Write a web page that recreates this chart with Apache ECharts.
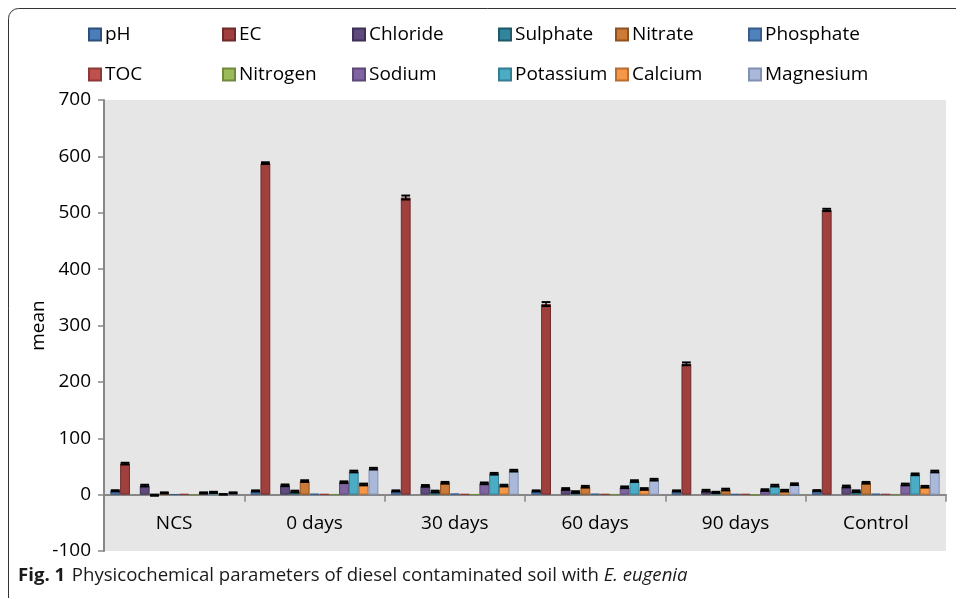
<!DOCTYPE html>
<html>
<head>
<meta charset="utf-8">
<script src="https://cdn.jsdelivr.net/npm/echarts@6/dist/echarts.min.js"></script>
<style>
  html, body { margin: 0; padding: 0; background: #fff; }
  #chart { width: 956px; height: 598px; }
</style>
</head>
<body>
<div id="chart"></div>
<script>
// ---- data ----
const categories = ['NCS', '0 days', '30 days', '60 days', '90 days', 'Control'];
const yTicks = [-100, 0, 100, 200, 300, 400, 500, 600, 700];

const pH        = [6.8, 6.5, 6.5, 6.5, 6.5, 7];
const EC        = [55, 588, 527, 338, 232, 505];
const Chloride  = [16, 16.5, 15.5, 10, 7, 14.5];
const Sulphate  = [-1, 5.5, 5.5, 4.5, 4, 6];
const Nitrate   = [3, 24, 21, 14, 9, 21];
const Phosphate = [0.5, 1.5, 2, 1.5, 1, 1.5];
const TOC       = [1, 1, 1, 1, 1, 1];
const Nitrogen  = [0.3, 0.5, 0.5, 0.5, -1, 0.5];
const Sodium    = [3, 22, 20, 13, 8, 18];
const Potassium = [4, 41, 37, 24, 16, 36];
const Calcium   = [0.5, 18, 16, 10, 7, 14];
const Magnesium = [3, 46, 42.5, 26.5, 18.5, 41];

// error (± half-range) for each mean
const errPH        = [1, 1, 1, 1, 1, 1];
const errEC        = [1.5, 1.5, 3.5, 3.5, 2.5, 2];
const errChloride  = [1.5, 1.5, 1.5, 1.5, 1.5, 1.5];
const errSulphate  = [1, 1.5, 1.5, 1.5, 1, 1.5];
const errNitrate   = [1, 1.5, 1.5, 1.5, 1.5, 1.5];
const errSodium    = [1, 1.5, 1.5, 1.5, 1.5, 1.5];
const errPotassium = [1, 1.5, 1.5, 1.5, 1.5, 1.5];
const errCalcium   = [0.5, 1.5, 1.5, 1.5, 1.5, 1.5];
const errMagnesium = [1, 1.5, 1.5, 1.5, 1.5, 1.5];

// ---- series definitions (order = slot order; blank slot after EC) ----
const defs = [
  { name: 'pH',        data: pH,        err: errPH,        color: '#4A7EBB', border: '#2F4F78' },
  { name: 'EC',        data: EC,        err: errEC,        color: '#A0403E', border: '#6E2A29' },
  { name: ' ',         data: categories.map(() => null), err: null, color: 'transparent', border: 'transparent' },
  { name: 'Chloride',  data: Chloride,  err: errChloride,  color: '#5F4A7E', border: '#3E3054' },
  { name: 'Sulphate',  data: Sulphate,  err: errSulphate,  color: '#31859C', border: '#1F5866' },
  { name: 'Nitrate',   data: Nitrate,   err: errNitrate,   color: '#CC7A35', border: '#8E5120' },
  { name: 'Phosphate', data: Phosphate, err: null,         color: '#4F81BD', border: '#385D8A' },
  { name: 'TOC',       data: TOC,       err: null,         color: '#C0504D', border: '#8C3836' },
  { name: 'Nitrogen',  data: Nitrogen,  err: null,         color: '#9BBB59', border: '#71893F' },
  { name: 'Sodium',    data: Sodium,    err: errSodium,    color: '#8064A2', border: '#5C4776' },
  { name: 'Potassium', data: Potassium, err: errPotassium, color: '#4BACC6', border: '#357D91' },
  { name: 'Calcium',   data: Calcium,   err: errCalcium,   color: '#F79646', border: '#B66D31' },
  { name: 'Magnesium', data: Magnesium, err: errMagnesium, color: '#AAB9DA', border: '#8090B0' }
];
const NSLOT = defs.length;
const CAT_GAP = 0.09;

const barSeries = defs.map(d => ({
  name: d.name,
  type: 'bar',
  data: d.data,
  barGap: '0%',
  barCategoryGap: (CAT_GAP * 100) + '%',
  itemStyle: { color: d.color, borderColor: d.border, borderWidth: 1 },
  emphasis: { disabled: true },
  z: 2
}));

const errData = [];
defs.forEach((d, slot) => {
  if (!d.err) return;
  d.data.forEach((v, ci) => {
    errData.push([ci, slot, v - d.err[ci], v + d.err[ci]]);
  });
});

const errSeries = {
  name: 'err',
  type: 'custom',
  data: errData,
  encode: { x: 0, y: [2, 3] },
  z: 5,
  silent: true,
  renderItem: function (params, api) {
    const cat = api.value(0), slot = api.value(1), lo = api.value(2), hi = api.value(3);
    const band = api.size([1, 0])[0];
    const bw = band * (1 - CAT_GAP) / NSLOT;
    const cx = api.coord([cat, 0])[0];
    const x0 = cx - NSLOT * bw / 2 + slot * bw;
    const yHi = api.coord([cat, hi])[1];
    const yLo = api.coord([cat, lo])[1];
    return {
      type: 'group',
      children: [
        { type: 'line', shape: { x1: x0 + 0.5, y1: yHi, x2: x0 + bw - 0.5, y2: yHi }, style: { stroke: '#000', lineWidth: 2 } },
        { type: 'line', shape: { x1: x0 + 0.5, y1: yLo, x2: x0 + bw - 0.5, y2: yLo }, style: { stroke: '#000', lineWidth: 2 } },
        { type: 'line', shape: { x1: x0 + bw / 2, y1: yHi, x2: x0 + bw / 2, y2: yLo }, style: { stroke: '#000', lineWidth: 1.5 } }
      ]
    };
  }
};

// legend columns (two rows each)
const legendCols = [
  { left: 88,  names: ['pH', 'TOC'] },
  { left: 222, names: ['EC', 'Nitrogen'] },
  { left: 352, names: ['Chloride', 'Sodium'] },
  { left: 498, names: ['Sulphate', 'Potassium'] },
  { left: 615, names: ['Nitrate', 'Calcium'] },
  { left: 748, names: ['Phosphate', 'Magnesium'] }
];
const FONT = "'Open Sans', 'Noto Sans', sans-serif";

const legends = legendCols.map(c => ({
  left: c.left,
  top: 25,
  padding: 0,
  orient: 'vertical',
  itemWidth: 12,
  itemHeight: 12,
  itemGap: 21,
  icon: 'rect',
  selectedMode: false,
  data: c.names,
  textStyle: { fontFamily: FONT, fontSize: 19, color: '#000', padding: [0, 0, 0, -1] }
}));

const chart = echarts.init(document.getElementById('chart'), null, { renderer: 'canvas' });
chart.setOption({
  animation: false,
  backgroundColor: '#fff',
  legend: legends,
  grid: {
    left: 104, right: 10, top: 100, bottom: 47,
    show: true, backgroundColor: '#E6E6E6', borderWidth: 0
  },
  xAxis: {
    type: 'category',
    data: categories,
    axisLine: { onZero: true, lineStyle: { color: '#878787', width: 2 } },
    axisTick: { show: true, length: 7, lineStyle: { color: '#878787', width: 1.5 } },
    axisLabel: { fontFamily: FONT, fontSize: 19, color: '#000', margin: -37 },
    splitLine: { show: false }
  },
  yAxis: {
    type: 'value',
    min: yTicks[0],
    max: yTicks[yTicks.length - 1],
    interval: 100,
    name: 'mean',
    nameLocation: 'middle',
    nameGap: 56,
    nameMoveOverlap: false,
    nameTextStyle: { fontFamily: FONT, fontSize: 19, color: '#000' },
    axisLine: { show: true, lineStyle: { color: '#878787', width: 2 } },
    axisTick: { show: true, length: 6, lineStyle: { color: '#878787', width: 1.5 } },
    axisLabel: { fontFamily: FONT, fontSize: 19, color: '#000', margin: 13 },
    splitLine: { show: false }
  },
  graphic: [
    {
      type: 'rect',
      shape: { x: 8.5, y: 8.5, width: 1200, height: 1200, r: 10 },
      style: { fill: 'none', stroke: '#333', lineWidth: 1 },
      z: -1, silent: true
    },
    {
      type: 'text',
      left: 18,
      top: 566,
      style: {
        text: '{b|Fig. 1}  {n|Physicochemical parameters of diesel contaminated soil with }{i|E. eugenia}',
        rich: {
          b: { fontFamily: FONT, fontSize: 18.6, fontWeight: 'bold', fill: '#1a1a1a' },
          n: { fontFamily: FONT, fontSize: 18.6, fill: '#1a1a1a' },
          i: { fontFamily: FONT, fontSize: 18.6, fontStyle: 'italic', fill: '#1a1a1a' }
        }
      }
    }
  ],
  series: barSeries.concat([errSeries])
});
</script>
</body>
</html>
